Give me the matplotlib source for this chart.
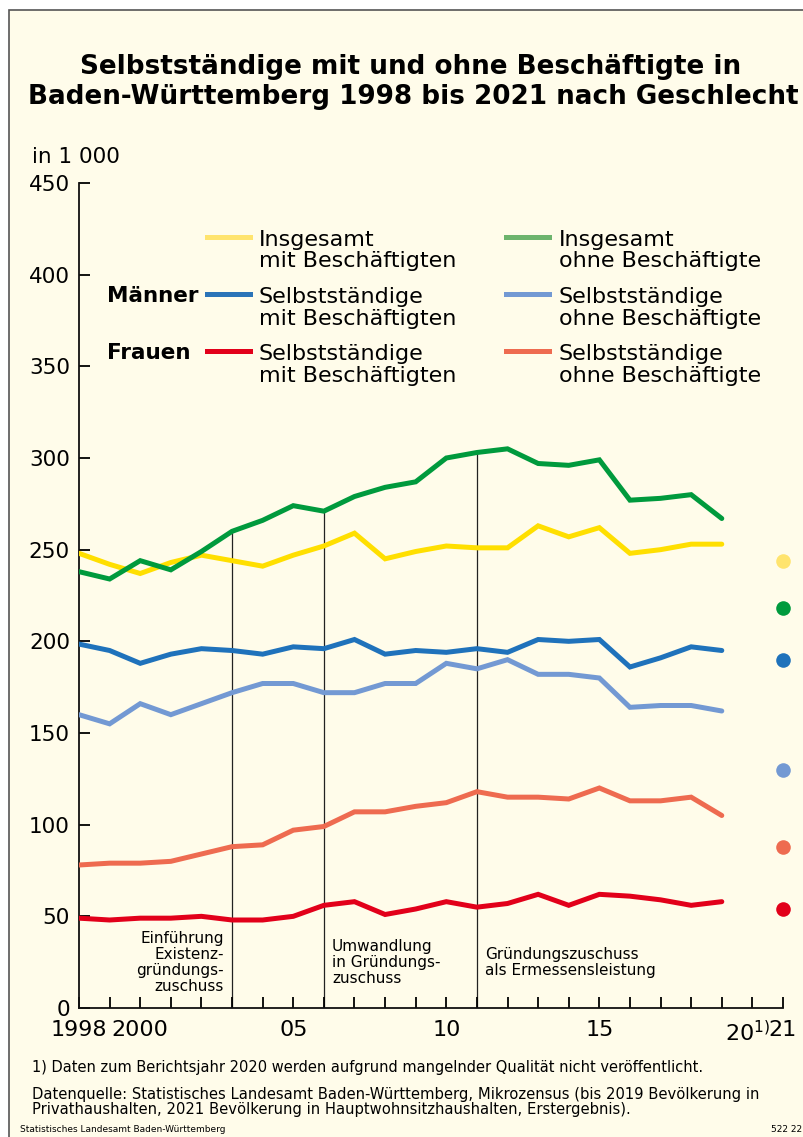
import matplotlib
matplotlib.use("Agg")
import matplotlib.pyplot as plt
from matplotlib.lines import Line2D
from matplotlib.patches import Rectangle
import matplotlib.transforms as mtransforms

plt.rcParams['font.family'] = ['DejaVu Sans']
plt.rcParams['mathtext.fontset'] = 'dejavusans'

years = list(range(1998, 2020))
insg_mit = [248, 242, 237, 243, 247, 244, 241, 247, 252, 259, 245, 249, 252, 251, 251, 263, 257, 262, 248, 250, 253, 253]
insg_ohne = [238, 234, 244, 239, 249, 260, 266, 274, 271, 279, 284, 287, 300, 303, 305, 297, 296, 299, 277, 278, 280, 267]
maenner_mit = [198.5, 195, 188, 193, 196, 195, 193, 197, 196, 201, 193, 195, 194, 196, 194, 201, 200, 201, 186, 191, 197, 195]
maenner_ohne = [160, 155, 166, 160, 166, 172, 177, 177, 172, 172, 177, 177, 188, 185, 190, 182, 182, 180, 164, 165, 165, 162]
frauen_ohne = [78, 79, 79, 80, 84, 88, 89, 97, 99, 107, 107, 110, 112, 118, 115, 115, 114, 120, 113, 113, 115, 105]
frauen_mit = [49, 48, 49, 49, 50, 48, 48, 50, 56, 58, 51, 54, 58, 55, 57, 62, 56, 62, 61, 59, 56, 58]

year_2021 = 2021
values_2021 = {'insg_mit': 244, 'insg_ohne': 218, 'maenner_mit': 190,
               'maenner_ohne': 130, 'frauen_ohne': 88, 'frauen_mit': 54}

event_years = [2003, 2006, 2011]
event_texts = ["Einführung\nExistenz-\ngründungs-\nzuschuss",
               "Umwandlung\nin Gründungs-\nzuschuss",
               "Gründungszuschuss\nals Ermessensleistung"]

tick_years = list(range(1998, 2022))
tick_labels = {1998: "1998", 2000: "2000", 2005: "05", 2010: "10", 2015: "15", 2021: "21"}
label_2020 = r"20$^{1)}$"

colors = {'insg_mit': '#FFDF00', 'insg_ohne': '#009A3D', 'maenner_mit': '#1F72BB',
          'maenner_ohne': '#7399D3', 'frauen_ohne': '#EE6B50', 'frauen_mit': '#E2001A'}
dot_colors = {'insg_mit': '#FFE46E', 'insg_ohne': '#009A3D', 'maenner_mit': '#1F72BB',
              'maenner_ohne': '#7399D3', 'frauen_ohne': '#EE6B50', 'frauen_mit': '#E2001A'}
legend_colors = {'insg_mit': '#FFE46E', 'insg_ohne': '#6DB46D', 'maenner_mit': '#2B74B8',
                 'maenner_ohne': '#7399D3', 'frauen_ohne': '#EE6B50', 'frauen_mit': '#E2001A'}
series = {'insg_mit': insg_mit, 'insg_ohne': insg_ohne, 'maenner_mit': maenner_mit,
          'maenner_ohne': maenner_ohne, 'frauen_ohne': frauen_ohne, 'frauen_mit': frauen_mit}

W, H = 804, 1137
BG = '#FFFCEA'
fig = plt.figure(figsize=(W / 100, H / 100), dpi=100)
fig.patch.set_facecolor('white')

def fx(x):
    return x / W

def fy(y):
    return 1 - y / H

fig.patches.append(Rectangle((fx(8.5), -0.01), 1.0, fy(10.5) + 0.01, transform=fig.transFigure,
                             facecolor=BG, edgecolor='#555555', linewidth=1.2, zorder=-10))

ax = fig.add_axes([fx(79), fy(1008), fx(783) - fx(79), fy(183) - fy(1008)])
ax.set_facecolor('none')
ax.set_xlim(1998, 2021)
ax.set_ylim(0, 450)
for s in ['top', 'right']:
    ax.spines[s].set_visible(False)
for s in ['left', 'bottom']:
    ax.spines[s].set_linewidth(1.3)
    ax.spines[s].set_color('#111111')

ax.set_yticks(range(0, 451, 50))
ax.set_xticks(tick_years)
ax.set_xticklabels([tick_labels.get(y, "") for y in tick_years])
ax.tick_params(axis='y', direction='in', length=8, width=1.3, labelsize=15.5, pad=6.5)
ax.tick_params(axis='x', direction='in', length=8, width=1.3, labelsize=16, pad=9)

trans = mtransforms.blended_transform_factory(ax.transData, ax.transAxes)
ax.annotate(label_2020, xy=(2021, 0), xycoords=trans, xytext=(-9.5, -9), textcoords='offset points',
            ha='right', va='top', fontsize=16)

# event lines
for ey in event_years:
    top = insg_ohne[years.index(ey)]
    ax.plot([ey, ey], [0, top], color='#222222', lw=0.9, zorder=1)

order = ['insg_mit', 'insg_ohne', 'maenner_mit', 'maenner_ohne', 'frauen_ohne', 'frauen_mit']
for k in order:
    ax.plot(years, series[k], color=colors[k], lw=3.6, solid_joinstyle='miter',
            solid_capstyle='round', zorder=3)
    ax.plot([year_2021], [values_2021[k]], 'o', color=dot_colors[k], ms=10.5, mec='none',
            zorder=4, clip_on=False)

# event annotations (va='baseline' -> last line baseline)
ann_fs = 11
ann_ls = 1.07
fig.text(fx(224), fy(991), event_texts[0], ha='right', va='baseline', fontsize=ann_fs, linespacing=ann_ls)
fig.text(fx(332), fy(983), event_texts[1], ha='left', va='baseline', fontsize=ann_fs, linespacing=ann_ls)
fig.text(fx(485), fy(975), event_texts[2], ha='left', va='baseline', fontsize=ann_fs, linespacing=ann_ls)

# title
fig.text(fx(411), fy(74), "Selbstständige mit und ohne Beschäftigte in", ha='center', va='baseline',
         fontsize=18.9, fontweight='bold')
fig.text(fx(413), fy(104), "Baden-Württemberg 1998 bis 2021 nach Geschlecht", ha='center', va='baseline',
         fontsize=18.9, fontweight='bold')
fig.text(fx(32), fy(163), "in 1 000", ha='left', va='baseline', fontsize=15.5)

# legend
leg_fs = 16
rows = [(237, 'insg_mit', 'Insgesamt\nmit Beschäftigten', 'insg_ohne', 'Insgesamt\nohne Beschäftigte', None),
        (294, 'maenner_mit', 'Selbstständige\nmit Beschäftigten', 'maenner_ohne', 'Selbstständige\nohne Beschäftigte', 'Männer'),
        (351, 'frauen_mit', 'Selbstständige\nmit Beschäftigten', 'frauen_ohne', 'Selbstständige\nohne Beschäftigte', 'Frauen')]
for y, k1, t1, k2, t2, lab in rows:
    fig.add_artist(Line2D([fx(207), fx(250)], [fy(y), fy(y)], color=legend_colors[k1], lw=3.6))
    fig.add_artist(Line2D([fx(506), fx(549)], [fy(y), fy(y)], color=legend_colors[k2], lw=3.6))
    fig.text(fx(259), fy(y + 30.5), t1, ha='left', va='baseline', fontsize=leg_fs, linespacing=1.1)
    fig.text(fx(559), fy(y + 30.5), t2, ha='left', va='baseline', fontsize=leg_fs, linespacing=1.1)
    if lab:
        fig.text(fx(107), fy(y + 7.5), lab, ha='left', va='baseline', fontsize=15.5, fontweight='bold')

# footnotes
fig.text(fx(32), fy(1072), "1) Daten zum Berichtsjahr 2020 werden aufgrund mangelnder Qualität nicht veröffentlicht.",
         ha='left', va='baseline', fontsize=10.5)
fig.text(fx(32), fy(1114), "Datenquelle: Statistisches Landesamt Baden-Württemberg, Mikrozensus (bis 2019 Bevölkerung in\n"
         "Privathaushalten, 2021 Bevölkerung in Hauptwohnsitzhaushalten, Erstergebnis).",
         ha='left', va='baseline', fontsize=10.6, linespacing=1.02)
fig.text(fx(20), fy(1132), "Statistisches Landesamt Baden-Württemberg", ha='left', va='baseline', fontsize=6.5)
fig.text(fx(802), fy(1132), "522 22", ha='right', va='baseline', fontsize=6.5)

fig.savefig("out.png", dpi=100, facecolor='white')
